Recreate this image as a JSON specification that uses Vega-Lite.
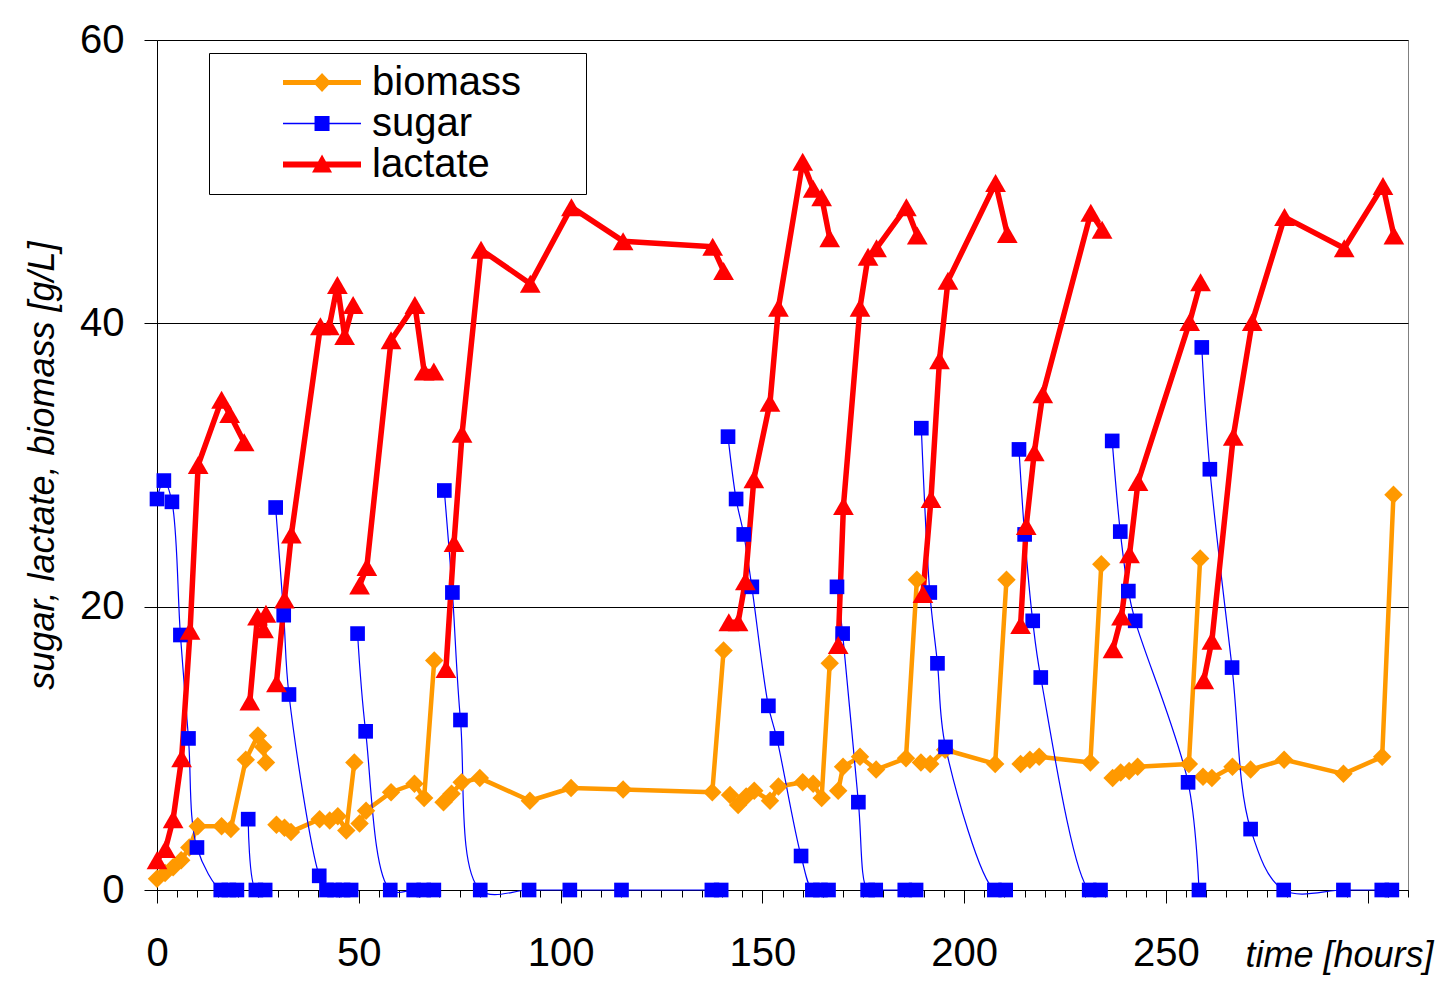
{
  "$schema": "https://vega.github.io/schema/vega-lite/v6.json",
  "width": 1251,
  "height": 850,
  "autosize": {"type": "none"},
  "padding": {"left": 157, "top": 40, "right": 29, "bottom": 108},
  "background": "#ffffff",
  "config": {
    "font": "Liberation Sans",
    "view": {"stroke": "#808080", "strokeWidth": 1},
    "axis": {
      "labelFont": "Liberation Sans", "titleFont": "Liberation Sans",
      "labelColor": "#000000", "titleColor": "#000000",
      "domainColor": "#000000", "tickColor": "#000000",
      "domainWidth": 1, "tickWidth": 1,
      "labelFontSize": 40, "titleFontSize": 36,
      "titleFontStyle": "italic", "titleFontWeight": "normal"
    },
    "legend": {
      "orient": "none", "legendX": 52, "legendY": 13,
      "padding": 9, "strokeColor": "#000000", "strokeWidth": 1, "fillColor": "#ffffff",
      "labelFont": "Liberation Sans", "labelFontSize": 40, "labelColor": "#000000",
      "labelOffset": 11, "labelLimit": 500,
      "symbolSize": 20449, "symbolStrokeWidth": 0, "clipHeight": 41, "rowPadding": 0
    }
  },
  "data": {
    "values": [
      {"series": "biomass", "batch": 1, "time": 0, "value": 0.8},
      {"series": "biomass", "batch": 1, "time": 2, "value": 1.2},
      {"series": "biomass", "batch": 1, "time": 4, "value": 1.6},
      {"series": "biomass", "batch": 1, "time": 6, "value": 2.1},
      {"series": "biomass", "batch": 1, "time": 8, "value": 3.0},
      {"series": "biomass", "batch": 1, "time": 10.1, "value": 4.5},
      {"series": "biomass", "batch": 1, "time": 16, "value": 4.5},
      {"series": "biomass", "batch": 1, "time": 18.3, "value": 4.3},
      {"series": "biomass", "batch": 1, "time": 22, "value": 9.2},
      {"series": "biomass", "batch": 1, "time": 25, "value": 10.9},
      {"series": "biomass", "batch": 1, "time": 26.3, "value": 10.1},
      {"series": "biomass", "batch": 1, "time": 27, "value": 9.0},
      {"series": "biomass", "batch": 2, "time": 29.6, "value": 4.6},
      {"series": "biomass", "batch": 2, "time": 31.6, "value": 4.4},
      {"series": "biomass", "batch": 2, "time": 33.2, "value": 4.1},
      {"series": "biomass", "batch": 2, "time": 40.3, "value": 5.0},
      {"series": "biomass", "batch": 2, "time": 42.8, "value": 4.9},
      {"series": "biomass", "batch": 2, "time": 44.8, "value": 5.2},
      {"series": "biomass", "batch": 2, "time": 46.9, "value": 4.2},
      {"series": "biomass", "batch": 2, "time": 48.9, "value": 9.0},
      {"series": "biomass", "batch": 3, "time": 50.2, "value": 4.7},
      {"series": "biomass", "batch": 3, "time": 51.8, "value": 5.6},
      {"series": "biomass", "batch": 3, "time": 58, "value": 6.9},
      {"series": "biomass", "batch": 3, "time": 63.8, "value": 7.5},
      {"series": "biomass", "batch": 3, "time": 66.2, "value": 6.5},
      {"series": "biomass", "batch": 3, "time": 68.7, "value": 16.2},
      {"series": "biomass", "batch": 4, "time": 71, "value": 6.2},
      {"series": "biomass", "batch": 4, "time": 73, "value": 6.8},
      {"series": "biomass", "batch": 4, "time": 75.5, "value": 7.6},
      {"series": "biomass", "batch": 4, "time": 80, "value": 7.9},
      {"series": "biomass", "batch": 4, "time": 92.4, "value": 6.3},
      {"series": "biomass", "batch": 4, "time": 102.6, "value": 7.2},
      {"series": "biomass", "batch": 4, "time": 115.5, "value": 7.1},
      {"series": "biomass", "batch": 4, "time": 137.6, "value": 6.9},
      {"series": "biomass", "batch": 4, "time": 140.4, "value": 16.9},
      {"series": "biomass", "batch": 5, "time": 142, "value": 6.7},
      {"series": "biomass", "batch": 5, "time": 144, "value": 6.0},
      {"series": "biomass", "batch": 5, "time": 146, "value": 6.6},
      {"series": "biomass", "batch": 5, "time": 148, "value": 7.0},
      {"series": "biomass", "batch": 5, "time": 151.9, "value": 6.3},
      {"series": "biomass", "batch": 5, "time": 154, "value": 7.3},
      {"series": "biomass", "batch": 5, "time": 160, "value": 7.6},
      {"series": "biomass", "batch": 5, "time": 162.6, "value": 7.5},
      {"series": "biomass", "batch": 5, "time": 164.7, "value": 6.5},
      {"series": "biomass", "batch": 5, "time": 166.7, "value": 16.0},
      {"series": "biomass", "batch": 6, "time": 168.8, "value": 7.0},
      {"series": "biomass", "batch": 6, "time": 170, "value": 8.7},
      {"series": "biomass", "batch": 6, "time": 174.2, "value": 9.4},
      {"series": "biomass", "batch": 6, "time": 178.2, "value": 8.5},
      {"series": "biomass", "batch": 6, "time": 185.6, "value": 9.3},
      {"series": "biomass", "batch": 6, "time": 188.3, "value": 21.9},
      {"series": "biomass", "batch": 7, "time": 189.3, "value": 9.0},
      {"series": "biomass", "batch": 7, "time": 191.6, "value": 8.9},
      {"series": "biomass", "batch": 7, "time": 195.3, "value": 9.9},
      {"series": "biomass", "batch": 7, "time": 207.7, "value": 8.9},
      {"series": "biomass", "batch": 7, "time": 210.5, "value": 21.9},
      {"series": "biomass", "batch": 8, "time": 214, "value": 8.9},
      {"series": "biomass", "batch": 8, "time": 216.3, "value": 9.2},
      {"series": "biomass", "batch": 8, "time": 218.6, "value": 9.4},
      {"series": "biomass", "batch": 8, "time": 231.3, "value": 9.0},
      {"series": "biomass", "batch": 8, "time": 234, "value": 23.0},
      {"series": "biomass", "batch": 9, "time": 236.8, "value": 7.9},
      {"series": "biomass", "batch": 9, "time": 238.8, "value": 8.3},
      {"series": "biomass", "batch": 9, "time": 240.9, "value": 8.4},
      {"series": "biomass", "batch": 9, "time": 243, "value": 8.7},
      {"series": "biomass", "batch": 9, "time": 255.7, "value": 8.9},
      {"series": "biomass", "batch": 9, "time": 258.5, "value": 23.4},
      {"series": "biomass", "batch": 10, "time": 259.2, "value": 8.0},
      {"series": "biomass", "batch": 10, "time": 261.4, "value": 7.9},
      {"series": "biomass", "batch": 10, "time": 266.5, "value": 8.7},
      {"series": "biomass", "batch": 10, "time": 271, "value": 8.5},
      {"series": "biomass", "batch": 10, "time": 279.3, "value": 9.2},
      {"series": "biomass", "batch": 10, "time": 294, "value": 8.2},
      {"series": "biomass", "batch": 10, "time": 303.6, "value": 9.4},
      {"series": "biomass", "batch": 10, "time": 306.4, "value": 27.9},

      {"series": "sugar", "batch": 1, "time": 0, "value": 27.6},
      {"series": "sugar", "batch": 1, "time": 1.7, "value": 28.9},
      {"series": "sugar", "batch": 1, "time": 3.7, "value": 27.4},
      {"series": "sugar", "batch": 1, "time": 5.8, "value": 18.0},
      {"series": "sugar", "batch": 1, "time": 7.8, "value": 10.7},
      {"series": "sugar", "batch": 1, "time": 9.9, "value": 3.0},
      {"series": "sugar", "batch": 1, "time": 15.8, "value": 0},
      {"series": "sugar", "batch": 1, "time": 17.8, "value": 0},
      {"series": "sugar", "batch": 1, "time": 19.8, "value": 0},
      {"series": "sugar", "batch": 2, "time": 22.6, "value": 5.0},
      {"series": "sugar", "batch": 2, "time": 24.5, "value": 0},
      {"series": "sugar", "batch": 2, "time": 26.8, "value": 0},
      {"series": "sugar", "batch": 3, "time": 29.4, "value": 27.0},
      {"series": "sugar", "batch": 3, "time": 31.4, "value": 19.4},
      {"series": "sugar", "batch": 3, "time": 32.7, "value": 13.8},
      {"series": "sugar", "batch": 3, "time": 40.2, "value": 1.0},
      {"series": "sugar", "batch": 3, "time": 42, "value": 0},
      {"series": "sugar", "batch": 3, "time": 44, "value": 0},
      {"series": "sugar", "batch": 3, "time": 46.1, "value": 0},
      {"series": "sugar", "batch": 3, "time": 48.1, "value": 0},
      {"series": "sugar", "batch": 4, "time": 49.7, "value": 18.1},
      {"series": "sugar", "batch": 4, "time": 51.7, "value": 11.2},
      {"series": "sugar", "batch": 4, "time": 57.8, "value": 0},
      {"series": "sugar", "batch": 4, "time": 63.6, "value": 0},
      {"series": "sugar", "batch": 4, "time": 66.1, "value": 0},
      {"series": "sugar", "batch": 4, "time": 68.6, "value": 0},
      {"series": "sugar", "batch": 5, "time": 71.2, "value": 28.2},
      {"series": "sugar", "batch": 5, "time": 73.2, "value": 21.0},
      {"series": "sugar", "batch": 5, "time": 75.2, "value": 12.0},
      {"series": "sugar", "batch": 5, "time": 80.1, "value": 0},
      {"series": "sugar", "batch": 5, "time": 92.2, "value": 0},
      {"series": "sugar", "batch": 5, "time": 102.3, "value": 0},
      {"series": "sugar", "batch": 5, "time": 115.1, "value": 0},
      {"series": "sugar", "batch": 5, "time": 137.5, "value": 0},
      {"series": "sugar", "batch": 5, "time": 139.8, "value": 0},
      {"series": "sugar", "batch": 6, "time": 141.5, "value": 32.0},
      {"series": "sugar", "batch": 6, "time": 143.5, "value": 27.6},
      {"series": "sugar", "batch": 6, "time": 145.4, "value": 25.1},
      {"series": "sugar", "batch": 6, "time": 147.4, "value": 21.4},
      {"series": "sugar", "batch": 6, "time": 151.5, "value": 13.0},
      {"series": "sugar", "batch": 6, "time": 153.6, "value": 10.7},
      {"series": "sugar", "batch": 6, "time": 159.6, "value": 2.4},
      {"series": "sugar", "batch": 6, "time": 162.4, "value": 0},
      {"series": "sugar", "batch": 6, "time": 164.4, "value": 0},
      {"series": "sugar", "batch": 6, "time": 166.4, "value": 0},
      {"series": "sugar", "batch": 7, "time": 168.5, "value": 21.4},
      {"series": "sugar", "batch": 7, "time": 169.9, "value": 18.1},
      {"series": "sugar", "batch": 7, "time": 173.8, "value": 6.2},
      {"series": "sugar", "batch": 7, "time": 176.1, "value": 0},
      {"series": "sugar", "batch": 7, "time": 178.1, "value": 0},
      {"series": "sugar", "batch": 7, "time": 185.3, "value": 0},
      {"series": "sugar", "batch": 7, "time": 188.1, "value": 0},
      {"series": "sugar", "batch": 8, "time": 189.4, "value": 32.6},
      {"series": "sugar", "batch": 8, "time": 191.5, "value": 21.0},
      {"series": "sugar", "batch": 8, "time": 193.4, "value": 16.0},
      {"series": "sugar", "batch": 8, "time": 195.4, "value": 10.1},
      {"series": "sugar", "batch": 8, "time": 207.5, "value": 0},
      {"series": "sugar", "batch": 8, "time": 210.3, "value": 0},
      {"series": "sugar", "batch": 9, "time": 213.6, "value": 31.1},
      {"series": "sugar", "batch": 9, "time": 215, "value": 25.1},
      {"series": "sugar", "batch": 9, "time": 217, "value": 19.0},
      {"series": "sugar", "batch": 9, "time": 219, "value": 15.0},
      {"series": "sugar", "batch": 9, "time": 231, "value": 0},
      {"series": "sugar", "batch": 9, "time": 233.8, "value": 0},
      {"series": "sugar", "batch": 10, "time": 236.7, "value": 31.7},
      {"series": "sugar", "batch": 10, "time": 238.7, "value": 25.3},
      {"series": "sugar", "batch": 10, "time": 240.7, "value": 21.1},
      {"series": "sugar", "batch": 10, "time": 242.4, "value": 19.0},
      {"series": "sugar", "batch": 10, "time": 255.5, "value": 7.6},
      {"series": "sugar", "batch": 10, "time": 258.2, "value": 0},
      {"series": "sugar", "batch": 11, "time": 258.9, "value": 38.3},
      {"series": "sugar", "batch": 11, "time": 260.9, "value": 29.7},
      {"series": "sugar", "batch": 11, "time": 266.4, "value": 15.7},
      {"series": "sugar", "batch": 11, "time": 271, "value": 4.3},
      {"series": "sugar", "batch": 11, "time": 279.2, "value": 0},
      {"series": "sugar", "batch": 11, "time": 294, "value": 0},
      {"series": "sugar", "batch": 11, "time": 303.5, "value": 0},
      {"series": "sugar", "batch": 11, "time": 306, "value": 0},

      {"series": "lactate", "batch": 1, "time": 0, "value": 2.1},
      {"series": "lactate", "batch": 1, "time": 2.1, "value": 2.9},
      {"series": "lactate", "batch": 1, "time": 4, "value": 5.0},
      {"series": "lactate", "batch": 1, "time": 6.1, "value": 9.3},
      {"series": "lactate", "batch": 1, "time": 8.2, "value": 18.3},
      {"series": "lactate", "batch": 1, "time": 10.2, "value": 30.0},
      {"series": "lactate", "batch": 1, "time": 16, "value": 34.6},
      {"series": "lactate", "batch": 1, "time": 18, "value": 33.6},
      {"series": "lactate", "batch": 1, "time": 21.6, "value": 31.6},
      {"series": "lactate", "batch": 2, "time": 23, "value": 13.3},
      {"series": "lactate", "batch": 2, "time": 24.9, "value": 19.3},
      {"series": "lactate", "batch": 2, "time": 26.4, "value": 18.4},
      {"series": "lactate", "batch": 2, "time": 27, "value": 19.5},
      {"series": "lactate", "batch": 3, "time": 29.6, "value": 14.6},
      {"series": "lactate", "batch": 3, "time": 31.6, "value": 20.5},
      {"series": "lactate", "batch": 3, "time": 33.3, "value": 25.1},
      {"series": "lactate", "batch": 3, "time": 40.5, "value": 39.8},
      {"series": "lactate", "batch": 3, "time": 42.7, "value": 39.8},
      {"series": "lactate", "batch": 3, "time": 44.7, "value": 42.7},
      {"series": "lactate", "batch": 3, "time": 46.5, "value": 39.1},
      {"series": "lactate", "batch": 3, "time": 48.6, "value": 41.3},
      {"series": "lactate", "batch": 4, "time": 50.2, "value": 21.5},
      {"series": "lactate", "batch": 4, "time": 52, "value": 22.8},
      {"series": "lactate", "batch": 4, "time": 58, "value": 38.8},
      {"series": "lactate", "batch": 4, "time": 63.9, "value": 41.3},
      {"series": "lactate", "batch": 4, "time": 66.2, "value": 36.6},
      {"series": "lactate", "batch": 4, "time": 68.6, "value": 36.6},
      {"series": "lactate", "batch": 5, "time": 71.6, "value": 15.6},
      {"series": "lactate", "batch": 5, "time": 73.6, "value": 24.5},
      {"series": "lactate", "batch": 5, "time": 75.6, "value": 32.2},
      {"series": "lactate", "batch": 5, "time": 80.3, "value": 45.2},
      {"series": "lactate", "batch": 5, "time": 92.5, "value": 42.8},
      {"series": "lactate", "batch": 5, "time": 102.7, "value": 48.2},
      {"series": "lactate", "batch": 5, "time": 115.5, "value": 45.8},
      {"series": "lactate", "batch": 5, "time": 137.7, "value": 45.4},
      {"series": "lactate", "batch": 5, "time": 140.4, "value": 43.7},
      {"series": "lactate", "batch": 6, "time": 141.7, "value": 18.9},
      {"series": "lactate", "batch": 6, "time": 144, "value": 18.9},
      {"series": "lactate", "batch": 6, "time": 145.8, "value": 21.8},
      {"series": "lactate", "batch": 6, "time": 147.9, "value": 29.0},
      {"series": "lactate", "batch": 6, "time": 151.9, "value": 34.4},
      {"series": "lactate", "batch": 6, "time": 154, "value": 41.1},
      {"series": "lactate", "batch": 6, "time": 160, "value": 51.4},
      {"series": "lactate", "batch": 6, "time": 162.6, "value": 49.5},
      {"series": "lactate", "batch": 6, "time": 164.7, "value": 48.9},
      {"series": "lactate", "batch": 6, "time": 166.7, "value": 46.0},
      {"series": "lactate", "batch": 7, "time": 168.8, "value": 17.3},
      {"series": "lactate", "batch": 7, "time": 170.1, "value": 27.1},
      {"series": "lactate", "batch": 7, "time": 174.2, "value": 41.1},
      {"series": "lactate", "batch": 7, "time": 176.2, "value": 44.7},
      {"series": "lactate", "batch": 7, "time": 178.3, "value": 45.3},
      {"series": "lactate", "batch": 7, "time": 185.7, "value": 48.2},
      {"series": "lactate", "batch": 7, "time": 188.4, "value": 46.2},
      {"series": "lactate", "batch": 8, "time": 189.8, "value": 20.9},
      {"series": "lactate", "batch": 8, "time": 191.8, "value": 27.6},
      {"series": "lactate", "batch": 8, "time": 193.9, "value": 37.4},
      {"series": "lactate", "batch": 8, "time": 196, "value": 43.0},
      {"series": "lactate", "batch": 8, "time": 207.8, "value": 49.9},
      {"series": "lactate", "batch": 8, "time": 210.7, "value": 46.3},
      {"series": "lactate", "batch": 9, "time": 214, "value": 18.7},
      {"series": "lactate", "batch": 9, "time": 215.4, "value": 25.7},
      {"series": "lactate", "batch": 9, "time": 217.4, "value": 30.9},
      {"series": "lactate", "batch": 9, "time": 219.5, "value": 35.0},
      {"series": "lactate", "batch": 9, "time": 231.4, "value": 47.8},
      {"series": "lactate", "batch": 9, "time": 234.2, "value": 46.6},
      {"series": "lactate", "batch": 10, "time": 236.9, "value": 17.0},
      {"series": "lactate", "batch": 10, "time": 239, "value": 19.3},
      {"series": "lactate", "batch": 10, "time": 241, "value": 23.7},
      {"series": "lactate", "batch": 10, "time": 243.1, "value": 28.8},
      {"series": "lactate", "batch": 10, "time": 255.9, "value": 40.1},
      {"series": "lactate", "batch": 10, "time": 258.6, "value": 42.9},
      {"series": "lactate", "batch": 11, "time": 259.4, "value": 14.8},
      {"series": "lactate", "batch": 11, "time": 261.4, "value": 17.6},
      {"series": "lactate", "batch": 11, "time": 266.7, "value": 32.0},
      {"series": "lactate", "batch": 11, "time": 271.4, "value": 40.1},
      {"series": "lactate", "batch": 11, "time": 279.4, "value": 47.5},
      {"series": "lactate", "batch": 11, "time": 294.2, "value": 45.3},
      {"series": "lactate", "batch": 11, "time": 303.8, "value": 49.7},
      {"series": "lactate", "batch": 11, "time": 306.5, "value": 46.2}
    ]
  },
  "encoding": {
    "x": {
      "field": "time", "type": "quantitative",
      "scale": {"domain": [0, 310], "nice": false, "zero": false},
      "axis": {
        "title": "time [hours]",
        "values": [0,5,10,15,20,25,30,35,40,45,50,55,60,65,70,75,80,85,90,95,100,105,110,115,120,125,130,135,140,145,150,155,160,165,170,175,180,185,190,195,200,205,210,215,220,225,230,235,240,245,250,255,260,265,270,275,280,285,290,295,300,305,310],
        "grid": false,
        "labelExpr": "datum.value % 50 === 0 && datum.value < 300 ? datum.label : ''",
        "labelFlush": false, "labelOverlap": false,
        "tickSize": {"condition": {"test": "datum.value % 50 === 0", "value": 13}, "value": 7},
        "labelPadding": 30,
        "titleX": 1276, "titleY": 65, "titleAlign": "right", "titleBaseline": "middle", "titleAnchor": "end"
      }
    },
    "y": {
      "field": "value", "type": "quantitative",
      "scale": {"domain": [0, 60], "nice": false},
      "axis": {
        "title": "sugar, lactate, biomass [g/L]",
        "values": [0, 20, 40, 60],
        "grid": true, "gridColor": "#000000", "gridWidth": 1, "gridOpacity": 1,
        "tickSize": 13, "labelPadding": 20,
        "titleX": -115, "titleY": 425, "titleAngle": 270, "titleAlign": "center", "titleBaseline": "middle"
      }
    }
  },
  "layer": [
    {
      "transform": [{"filter": "datum.series === 'biomass'"}],
      "mark": {"type": "line", "color": "#FF9900", "strokeWidth": 4.5, "strokeJoin": "round", "strokeCap": "round"},
      "encoding": {"detail": {"field": "batch", "type": "nominal"}}
    },
    {
      "transform": [{"filter": "datum.series === 'sugar'"}],
      "mark": {"type": "line", "color": "#0000FF", "strokeWidth": 1.2, "interpolate": "catmull-rom"},
      "encoding": {"detail": {"field": "batch", "type": "nominal"}}
    },
    {
      "transform": [{"filter": "datum.series === 'lactate'"}],
      "mark": {"type": "line", "color": "#FF0000", "strokeWidth": 5.5, "strokeJoin": "round", "strokeCap": "round"},
      "encoding": {"detail": {"field": "batch", "type": "nominal"}}
    },
    {
      "transform": [{"filter": "datum.series === 'biomass'"}],
      "mark": {"type": "point", "shape": "diamond", "filled": true, "size": 340, "color": "#FF9900", "opacity": 1},
      "encoding": {}
    },
    {
      "transform": [{"filter": "datum.series === 'sugar'"}],
      "mark": {"type": "point", "shape": "square", "filled": true, "size": 215, "color": "#0000FF", "opacity": 1},
      "encoding": {}
    },
    {
      "transform": [{"filter": "datum.series === 'lactate'"}],
      "mark": {"type": "point", "shape": "triangle-up", "filled": true, "size": 430, "color": "#FF0000", "opacity": 1},
      "encoding": {}
    },
    {
      "transform": [{"filter": "datum.value < -1000"}],
      "mark": {"type": "point", "filled": true, "opacity": 1, "strokeWidth": 0},
      "encoding": {
        "shape": {
          "field": "series", "type": "nominal",
          "scale": {
            "domain": ["biomass", "sugar", "lactate"],
            "range": [
              "M-0.091,-0.035H1V0.035H-0.091Z M0.329,0L0.455,-0.133L0.581,0L0.455,0.133Z",
              "M-0.091,-0.009H1V0.009H-0.091Z M0.350,-0.105H0.560V0.105H0.350Z",
              "M-0.091,-0.042H1V0.042H-0.091Z M0.455,-0.140L0.595,0.112H0.315Z"
            ]
          },
          "legend": {"title": null, "labelExpr": "datum.label + '\u00a0\u00a0\u00a0\u00a0\u00a0\u200b'"}
        },
        "fill": {
          "field": "series", "type": "nominal",
          "scale": {"domain": ["biomass", "sugar", "lactate"], "range": ["#FF9900", "#0000FF", "#FF0000"]},
          "legend": {"title": null, "labelExpr": "datum.label + '\u00a0\u00a0\u00a0\u00a0\u00a0\u200b'"}
        }
      }
    }
  ]
}
